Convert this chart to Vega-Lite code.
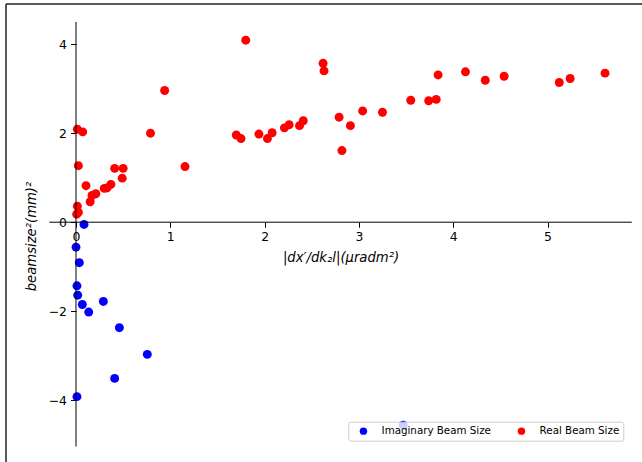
{
  "$schema": "https://vega.github.io/schema/vega-lite/v6.json",
  "width": 636,
  "height": 458,
  "autosize": {"type": "none"},
  "padding": {"left": 6, "top": 4, "right": 0, "bottom": 0},
  "background": "white",
  "config": {"view": {"stroke": null}, "font": "DejaVu Sans"},
  "layer": [
    {
      "data": {
        "values": [
          {"dx": 0.085, "bs": -0.05, "series": "Imaginary Beam Size"},
          {"dx": 0.0, "bs": -0.56, "series": "Imaginary Beam Size"},
          {"dx": 0.035, "bs": -0.91, "series": "Imaginary Beam Size"},
          {"dx": 0.01, "bs": -1.43, "series": "Imaginary Beam Size"},
          {"dx": 0.018, "bs": -1.64, "series": "Imaginary Beam Size"},
          {"dx": 0.067, "bs": -1.85, "series": "Imaginary Beam Size"},
          {"dx": 0.29, "bs": -1.78, "series": "Imaginary Beam Size"},
          {"dx": 0.135, "bs": -2.02, "series": "Imaginary Beam Size"},
          {"dx": 0.46, "bs": -2.37, "series": "Imaginary Beam Size"},
          {"dx": 0.756, "bs": -2.97, "series": "Imaginary Beam Size"},
          {"dx": 0.41, "bs": -3.51, "series": "Imaginary Beam Size"},
          {"dx": 0.01, "bs": -3.92, "series": "Imaginary Beam Size"},
          {"dx": 3.47, "bs": -4.56, "series": "Imaginary Beam Size"},
          {"dx": 0.014, "bs": 2.09, "series": "Real Beam Size"},
          {"dx": 0.071, "bs": 2.03, "series": "Real Beam Size"},
          {"dx": 0.79, "bs": 2.0, "series": "Real Beam Size"},
          {"dx": 0.025, "bs": 1.27, "series": "Real Beam Size"},
          {"dx": 0.41, "bs": 1.21, "series": "Real Beam Size"},
          {"dx": 0.5, "bs": 1.21, "series": "Real Beam Size"},
          {"dx": 1.156, "bs": 1.25, "series": "Real Beam Size"},
          {"dx": 0.49, "bs": 0.99, "series": "Real Beam Size"},
          {"dx": 0.106, "bs": 0.82, "series": "Real Beam Size"},
          {"dx": 0.3, "bs": 0.76, "series": "Real Beam Size"},
          {"dx": 0.33, "bs": 0.77, "series": "Real Beam Size"},
          {"dx": 0.37, "bs": 0.85, "series": "Real Beam Size"},
          {"dx": 0.17, "bs": 0.6, "series": "Real Beam Size"},
          {"dx": 0.21, "bs": 0.64, "series": "Real Beam Size"},
          {"dx": 0.15, "bs": 0.46, "series": "Real Beam Size"},
          {"dx": 0.014, "bs": 0.36, "series": "Real Beam Size"},
          {"dx": 0.025, "bs": 0.22, "series": "Real Beam Size"},
          {"dx": 0.007, "bs": 0.18, "series": "Real Beam Size"},
          {"dx": 1.8, "bs": 4.09, "series": "Real Beam Size"},
          {"dx": 0.94, "bs": 2.96, "series": "Real Beam Size"},
          {"dx": 1.7, "bs": 1.96, "series": "Real Beam Size"},
          {"dx": 1.75, "bs": 1.88, "series": "Real Beam Size"},
          {"dx": 1.94, "bs": 1.98, "series": "Real Beam Size"},
          {"dx": 2.03, "bs": 1.88, "series": "Real Beam Size"},
          {"dx": 2.08, "bs": 2.01, "series": "Real Beam Size"},
          {"dx": 2.21, "bs": 2.12, "series": "Real Beam Size"},
          {"dx": 2.26, "bs": 2.19, "series": "Real Beam Size"},
          {"dx": 2.37, "bs": 2.17, "series": "Real Beam Size"},
          {"dx": 2.41, "bs": 2.28, "series": "Real Beam Size"},
          {"dx": 2.62, "bs": 3.57, "series": "Real Beam Size"},
          {"dx": 2.63, "bs": 3.4, "series": "Real Beam Size"},
          {"dx": 2.79, "bs": 2.36, "series": "Real Beam Size"},
          {"dx": 2.91, "bs": 2.17, "series": "Real Beam Size"},
          {"dx": 3.04, "bs": 2.5, "series": "Real Beam Size"},
          {"dx": 2.82, "bs": 1.61, "series": "Real Beam Size"},
          {"dx": 3.25, "bs": 2.47, "series": "Real Beam Size"},
          {"dx": 3.55, "bs": 2.74, "series": "Real Beam Size"},
          {"dx": 3.74, "bs": 2.73, "series": "Real Beam Size"},
          {"dx": 3.82, "bs": 2.76, "series": "Real Beam Size"},
          {"dx": 3.84, "bs": 3.31, "series": "Real Beam Size"},
          {"dx": 4.13, "bs": 3.38, "series": "Real Beam Size"},
          {"dx": 4.34, "bs": 3.19, "series": "Real Beam Size"},
          {"dx": 4.54, "bs": 3.28, "series": "Real Beam Size"},
          {"dx": 5.125, "bs": 3.14, "series": "Real Beam Size"},
          {"dx": 5.24, "bs": 3.23, "series": "Real Beam Size"},
          {"dx": 5.61, "bs": 3.35, "series": "Real Beam Size"}
        ]
      },
      "mark": {"type": "point", "filled": true, "opacity": 1, "size": 80, "shape": "circle", "strokeWidth": 0},
      "encoding": {
        "x": {
          "field": "dx", "type": "quantitative",
          "title": "|dx′/dk₂l|(μradm²)",
          "scale": {"domain": [-0.7423, 6.0021], "nice": false, "zero": false},
          "axis": {
            "values": [0, 1, 2, 3, 4, 5], "format": "d", "domain": false, "grid": false,
            "offset": -239.8, "tickSize": 5, "tickColor": "black", "tickWidth": 1,
            "labelFontSize": 12.4, "labelFont": "DejaVu Sans", "labelColor": "black", "labelPadding": 3,
            "labelFlush": false, "labelOverlap": false,
            "titleFont": "DejaVu Sans", "titleFontSize": 13.2,
            "titleFontStyle": "italic", "titleFontWeight": "normal", "titleColor": "black",
            "titleX": 334.5, "titleY": 39.5, "titleBaseline": "alphabetic", "titleAlign": "center"
          }
        },
        "y": {
          "field": "bs", "type": "quantitative",
          "title": "beamsize²(mm)²",
          "scale": {"domain": [-5.3888, 4.9034], "nice": false, "zero": false},
          "axis": {
            "values": [-4, -2, 0, 2, 4], "format": "d", "domain": false, "grid": false,
            "offset": -70, "tickSize": 5.5, "tickColor": "black", "tickWidth": 1,
            "labelFontSize": 12.4, "labelFont": "DejaVu Sans", "labelColor": "black", "labelPadding": 4,
            "labelFlush": false, "labelOverlap": false,
            "titleFont": "DejaVu Sans", "titleFontSize": 13.2,
            "titleFontStyle": "italic", "titleFontWeight": "normal", "titleColor": "black",
            "titleX": -40.5, "titleY": 232, "titleAngle": 270, "titleBaseline": "alphabetic", "titleAlign": "center"
          }
        },
        "color": {
          "field": "series", "type": "nominal",
          "scale": {"domain": ["Imaginary Beam Size", "Real Beam Size"], "range": ["#0000ff", "#ff0000"]},
          "legend": {
            "title": null, "orient": "none", "legendX": 342.3, "legendY": 417.7, "direction": "horizontal",
            "fillColor": "rgba(255,255,255,0.8)", "strokeColor": "#cccccc", "cornerRadius": 2, "padding": 4,
            "symbolType": "circle", "symbolSize": 55, "symbolOffset": 6, "symbolStrokeWidth": 0, "symbolOpacity": 1,
            "labelFontSize": 10.3, "labelFont": "DejaVu Sans", "labelColor": "black", "labelOffset": 13,
            "columnPadding": 19
          }
        }
      }
    },
    {
      "data": {"values": [{}]},
      "mark": {"type": "rule", "color": "black", "strokeWidth": 1},
      "encoding": {
        "x": {"datum": -0.283, "type": "quantitative", "title": "|dx′/dk₂l|(μradm²)"},
        "x2": {"datum": 5.894},
        "y": {"datum": 0, "type": "quantitative", "title": "beamsize²(mm)²"}
      }
    },
    {
      "data": {"values": [{}]},
      "mark": {"type": "rule", "color": "black", "strokeWidth": 1},
      "encoding": {
        "x": {"datum": 0, "type": "quantitative", "title": "|dx′/dk₂l|(μradm²)"},
        "y": {"datum": -5.04, "type": "quantitative", "title": "beamsize²(mm)²"},
        "y2": {"datum": 4.5}
      }
    },
    {
      "data": {"values": [{}]},
      "mark": {"type": "rule", "color": "#222222", "strokeWidth": 1.5},
      "encoding": {
        "y": {"datum": 4.9034, "type": "quantitative", "title": "beamsize²(mm)²"}
      }
    },
    {
      "data": {"values": [{}]},
      "mark": {"type": "rule", "color": "#222222", "strokeWidth": 1.5},
      "encoding": {
        "x": {"datum": -0.7423, "type": "quantitative", "title": "|dx′/dk₂l|(μradm²)"}
      }
    }
  ]
}
